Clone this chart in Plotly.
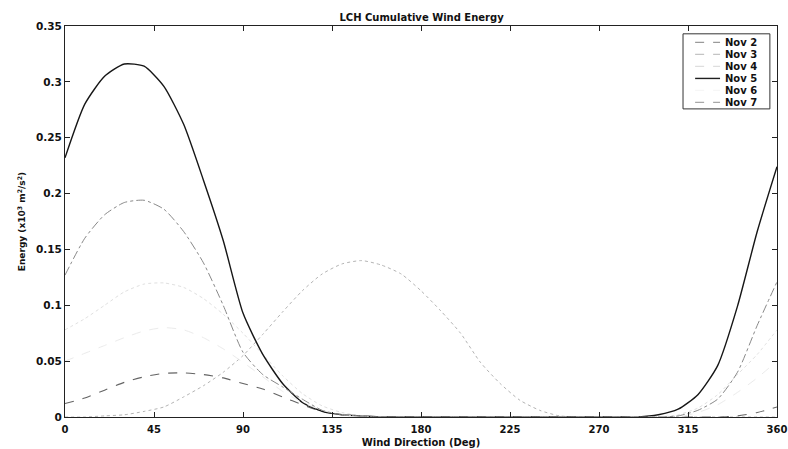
import plotly.graph_objects as go

# Wind direction bins (degrees)
direction = [0, 10, 20, 30, 40, 50, 60, 70, 80, 90, 100, 110, 120, 130, 140, 150,
             160, 170, 180, 190, 200, 210, 220, 230, 240, 250, 260, 270, 280, 290,
             300, 310, 320, 330, 340, 350, 360]

# Cumulative wind energy per day (x10^3 m^2/s^2)
nov2 = [0.012, 0.017, 0.024, 0.031, 0.036, 0.039, 0.0395, 0.038, 0.035, 0.030, 0.025,
        0.018, 0.011, 0.005, 0.002, 0.001, 0, 0, 0, 0, 0, 0, 0, 0, 0, 0, 0, 0, 0, 0,
        0, 0, 0, 0, 0.001, 0.004, 0.009]
nov3 = [0.0, 0.0, 0.001, 0.002, 0.005, 0.009, 0.018, 0.028, 0.040, 0.055, 0.074, 0.094,
        0.113, 0.128, 0.137, 0.140, 0.136, 0.128, 0.113, 0.095, 0.075, 0.049, 0.030,
        0.015, 0.006, 0.001, 0, 0, 0, 0, 0, 0, 0, 0, 0, 0, 0]
nov4 = [0.078, 0.088, 0.100, 0.112, 0.119, 0.120, 0.116, 0.106, 0.092, 0.075, 0.056,
        0.037, 0.021, 0.010, 0.004, 0.001, 0, 0, 0, 0, 0, 0, 0, 0, 0, 0, 0, 0, 0, 0,
        0, 0.002, 0.008, 0.020, 0.038, 0.056, 0.078]
nov5 = [0.232, 0.280, 0.305, 0.316, 0.314, 0.296, 0.262, 0.212, 0.158, 0.093, 0.056,
        0.030, 0.013, 0.005, 0.002, 0.001, 0, 0, 0, 0, 0, 0, 0, 0, 0, 0, 0, 0, 0, 0,
        0.002, 0.007, 0.020, 0.046, 0.099, 0.166, 0.224]
nov6 = [0.050, 0.057, 0.064, 0.071, 0.077, 0.080, 0.078, 0.071, 0.061, 0.049, 0.036,
        0.023, 0.013, 0.006, 0.002, 0.001, 0, 0, 0, 0, 0, 0, 0, 0, 0, 0, 0, 0, 0, 0,
        0, 0, 0.004, 0.011, 0.022, 0.035, 0.050]
nov7 = [0.127, 0.160, 0.181, 0.192, 0.194, 0.186, 0.166, 0.138, 0.100, 0.058, 0.038,
        0.027, 0.016, 0.006, 0.002, 0.001, 0, 0, 0, 0, 0, 0, 0, 0, 0, 0, 0, 0, 0, 0,
        0, 0.001, 0.006, 0.016, 0.040, 0.082, 0.121]

names = ["Nov 2", "Nov 3", "Nov 4", "Nov 5", "Nov 6", "Nov 7"]
values = [nov2, nov3, nov4, nov5, nov6, nov7]

x_ticks = [0, 45, 90, 135, 180, 225, 270, 315, 360]
y_ticks = [0, 0.05, 0.1, 0.15, 0.2, 0.25, 0.3, 0.35]

line_colors = ["#646464", "#b4b4b4", "#e0e0e0", "#161616", "#ebebeb", "#888888"]
legend_colors = ["#9a9a9a", "#c4c4c4", "#dedede", "#202020", "#f6f6f6", "#a8a8a8"]
dashes = ["dash", "dot", "dot", "solid", "dash", "dashdot"]
widths = [1.1, 1.0, 1.0, 1.4, 1.0, 1.0]

FONT = "DejaVu Sans"

fig = go.Figure()
for name, ys, col, dsh, w in zip(names, values, line_colors, dashes, widths):
    fig.add_trace(go.Scatter(
        x=direction, y=ys, name=name, mode="lines",
        line=dict(color=col, dash=dsh, width=w, shape="spline", smoothing=0.6),
        showlegend=False,
    ))

# Boxed legend in the upper-right corner of the axes
shapes = [dict(type="rect", xref="paper", yref="paper",
               x0=0.868, x1=0.990, y0=0.788, y1=0.980,
               line=dict(color="#333", width=1), fillcolor="white", layer="above")]
annotations = []
row_h = 0.0307
for i, (name, col, dsh) in enumerate(zip(names, legend_colors, dashes)):
    yy = 0.958 - i * row_h
    shapes.append(dict(type="line", xref="paper", yref="paper",
                       x0=0.885, x1=0.920, y0=yy, y1=yy,
                       line=dict(color=col, width=1.4 if name == "Nov 5" else 1.2,
                                 dash="solid" if name == "Nov 5" else "dash"),
                       layer="above"))
    annotations.append(dict(xref="paper", yref="paper", x=0.924, y=yy,
                            xanchor="left", yanchor="middle", showarrow=False,
                            text="<b>%s</b>" % name,
                            font=dict(family=FONT, size=10, color="#111")))

fig.update_layout(
    width=788, height=449,
    margin=dict(l=65, r=11, t=26, b=32),
    paper_bgcolor="white", plot_bgcolor="white",
    font=dict(family=FONT, color="#111"),
    title=dict(text="<b>LCH Cumulative Wind Energy</b>", x=0.535, xanchor="center",
               y=0.962, yanchor="middle", font=dict(family=FONT, size=10, color="#111")),
    shapes=shapes, annotations=annotations,
)
fig.update_xaxes(
    range=[0, 360], tickvals=x_ticks, ticktext=["<b>%d</b>" % t for t in x_ticks],
    ticks="inside", ticklen=5, tickcolor="#222", mirror="ticks", automargin=False,
    showline=True, linecolor="#222", linewidth=1, showgrid=False, zeroline=False,
    tickfont=dict(family=FONT, size=10, color="#111"), ticklabelstandoff=3,
    title=dict(text="<b>Wind Direction (Deg)</b>", standoff=4,
               font=dict(family=FONT, size=10, color="#111")),
)
fig.update_yaxes(
    range=[0, 0.35], tickvals=y_ticks,
    ticktext=["<b>%g</b>" % t for t in y_ticks],
    ticks="inside", ticklen=5, tickcolor="#222", mirror="ticks", automargin=False,
    showline=True, linecolor="#222", linewidth=1, showgrid=False, zeroline=False,
    tickfont=dict(family=FONT, size=10.5, color="#111"),
    title=dict(text="<b>Energy (x10<sup>3</sup> m<sup>2</sup>/s<sup>2</sup>)</b>", standoff=8,
               font=dict(family=FONT, size=9, color="#111")),
)

fig.write_html("out.html")
